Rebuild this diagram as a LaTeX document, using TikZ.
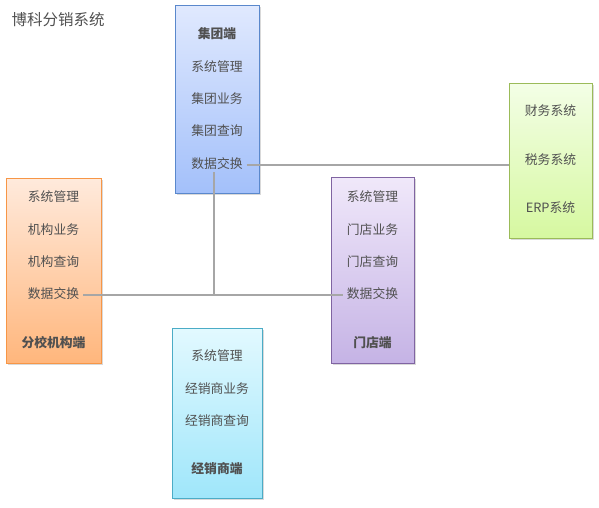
\documentclass[tikz,border=0pt]{standalone}
\usepackage{fontspec}
\setmainfont{Noto Sans CJK SC}
\usepackage{xcolor}
\usetikzlibrary{positioning, shadows}
\definecolor{bokegrey}{HTML}{505050}
\definecolor{bokeline}{HTML}{A6A6A6}
\definecolor{grpedge}{HTML}{5A88CC}
\definecolor{grptop}{HTML}{E0E9FE}
\definecolor{grpbot}{HTML}{A3C0FA}
\definecolor{orgedge}{HTML}{F79646}
\definecolor{orgtop}{HTML}{FFEADC}
\definecolor{orgbot}{HTML}{FFB67C}
\definecolor{dlredge}{HTML}{4BACC6}
\definecolor{dlrtop}{HTML}{E2F9FF}
\definecolor{dlrbot}{HTML}{9FE6FA}
\definecolor{shpedge}{HTML}{8064A2}
\definecolor{shptop}{HTML}{F0E8FA}
\definecolor{shpbot}{HTML}{C5B3E5}
\definecolor{extedge}{HTML}{9BBB59}
\definecolor{exttop}{HTML}{F3FEE6}
\definecolor{extbot}{HTML}{D6F8A0}

\begin{document}
\begin{tikzpicture}[x=1pt, y=1pt, node distance=13.5pt,
  panel/.style={anchor=north west, line width=0.9pt,
    drop shadow={opacity=0.3, shadow xshift=1.5pt, shadow yshift=-1.5pt}},
  item/.style={text=bokegrey, font=\fontsize{12.8}{15}\selectfont,
    inner xsep=4pt, inner ysep=3pt, text height=10pt, text depth=2.5pt},
  head/.style={item, font=\fontsize{12.8}{15}\selectfont\bfseries},
  link/.style={draw=bokeline, line width=1.8pt}]

  \useasboundingbox (0,0) rectangle (599,-507);

  \node[text=bokegrey, font=\fontsize{15.5}{18}\selectfont, anchor=west] (title) at (8,-20) {博科分销系统};

  % group
  \node[panel, draw=grpedge, top color=grptop, bottom color=grpbot,
    minimum width=84pt, minimum height=188pt] (grp) at (175,-5) {};
  \node[head] (grp0) at (217,-35) {集团端};
  \node[item, below=of grp0] (grp1) {系统管理};
  \node[item, below=of grp1] (grp2) {集团业务};
  \node[item, below=of grp2] (grp3) {集团查询};
  \node[item, below=of grp3] (grpx) {数据交换};

  % branch school
  \node[panel, draw=orgedge, top color=orgtop, bottom color=orgbot,
    minimum width=95pt, minimum height=185pt] (org) at (6,-178) {};
  \node[item] (org1) at (53.5,-198) {系统管理};
  \node[item, below=of org1] (org2) {机构业务};
  \node[item, below=of org2] (org3) {机构查询};
  \node[item, below=of org3] (orgx) {数据交换};
  \node[head, below=30pt of orgx] (org0) {分校机构端};

  % dealer
  \node[panel, draw=dlredge, top color=dlrtop, bottom color=dlrbot,
    minimum width=90pt, minimum height=170pt] (dlr) at (172,-328) {};
  \node[item] (dlr1) at (217,-357) {系统管理};
  \node[item, below=of dlr1] (dlr2) {经销商业务};
  \node[item, below=of dlr2] (dlr3) {经销商查询};
  \node[head, below=29.5pt of dlr3] (dlr0) {经销商端};

  % shop
  \node[panel, draw=shpedge, top color=shptop, bottom color=shpbot,
    minimum width=83pt, minimum height=186pt] (shp) at (331,-177) {};
  \node[item] (shp1) at (372.5,-198) {系统管理};
  \node[item, below=of shp1] (shp2) {门店业务};
  \node[item, below=of shp2] (shp3) {门店查询};
  \node[item, below=of shp3] (shpx) {数据交换};
  \node[head, below=29.5pt of shpx] (shp0) {门店端};

  % external systems
  \node[panel, draw=extedge, top color=exttop, bottom color=extbot,
    minimum width=83pt, minimum height=155pt] (ext) at (509,-83) {};
  \node[item] (ext1) at (550.5,-112) {财务系统};
  \node[item, below=29.5pt of ext1] (ext2) {税务系统};
  \node[item, below=29.5pt of ext2] (ext3) {ERP系统};

  \coordinate (drop) at ([xshift=-3pt, yshift=2pt]grpx.south);
  \coordinate (hub) at (drop |- orgx);
  \draw[link] (grpx.east) -- (grpx -| ext.west);
  \draw[link] (drop) -- (hub);
  \draw[link] (orgx.east) -- (orgx -| shpx.west);
\end{tikzpicture}
\end{document}
